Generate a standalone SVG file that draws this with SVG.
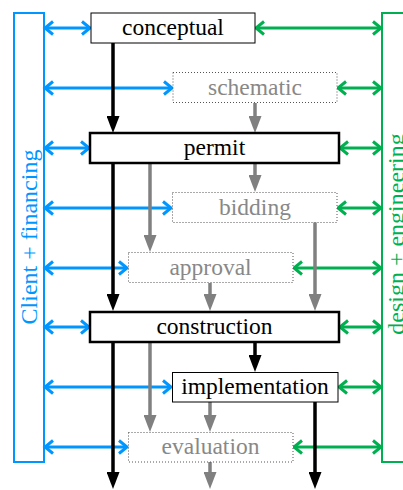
<svg xmlns="http://www.w3.org/2000/svg" width="403" height="490" viewBox="0 0 403 490">
<defs>
<style>
.t{font-size:23.5px;text-anchor:middle}
.main{fill:#000}
.opt{fill:#888}
.box{fill:#fff;stroke:#000;stroke-width:1}
.key{fill:#fff;stroke:#000;stroke-width:2.5}
.dot{fill:#fff;stroke:#555;stroke-width:1;stroke-dasharray:1 2}
.blue{stroke:#0096FF;stroke-width:3;fill:none;marker-start:url(#cb);marker-end:url(#cb)}
.green{stroke:#00B050;stroke-width:3;fill:none;marker-start:url(#cg);marker-end:url(#cg)}
.blk{stroke:#000;stroke-width:3.5;marker-end:url(#tb)}
.gry{stroke:#808080;stroke-width:3.5;marker-end:url(#tg)}
.side{font-size:24px;text-anchor:middle}
</style>
<marker id="cb" markerUnits="userSpaceOnUse" markerWidth="14" markerHeight="18" refX="9" refY="8" orient="auto-start-reverse" viewBox="0 0 14 18">
<path d="M1,1.5 L9,8 L1,14.5" fill="none" stroke="#0096FF" stroke-width="3"/>
</marker>
<marker id="cg" markerUnits="userSpaceOnUse" markerWidth="14" markerHeight="18" refX="9" refY="8" orient="auto-start-reverse" viewBox="0 0 14 18">
<path d="M1,1.5 L9,8 L1,14.5" fill="none" stroke="#00B050" stroke-width="3"/>
</marker>
<marker id="tb" markerUnits="userSpaceOnUse" markerWidth="17" markerHeight="13" refX="0" refY="6.5" orient="auto" viewBox="0 0 17 13">
<path d="M0,0 L17,6.5 L0,13 z" fill="#000"/>
</marker>
<marker id="tg" markerUnits="userSpaceOnUse" markerWidth="17" markerHeight="13" refX="0" refY="6.5" orient="auto" viewBox="0 0 17 13">
<path d="M0,0 L17,6.5 L0,13 z" fill="#808080"/>
</marker>
</defs>

<g id="client">
<rect x="14" y="13" width="30" height="449" fill="none" stroke="#0096FF" stroke-width="2"/>
<text class="side" style="font-family:'Liberation Serif',serif" transform="translate(37,237) rotate(-90)" fill="#0096FF">Client + financing</text>
</g>
<g id="design">
<rect x="382" y="13" width="40" height="449" fill="none" stroke="#00B050" stroke-width="2"/>
<text class="side" style="font-family:'Liberation Serif',serif" transform="translate(404,234) rotate(-90)" fill="#00B050">design + engineering</text>
</g>

<g id="connectors">
<g id="horizontal">
<line class="blue" x1="45" y1="28" x2="90" y2="28"/>
<line class="blue" x1="45" y1="88" x2="172" y2="88"/>
<line class="blue" x1="45" y1="148" x2="89" y2="148"/>
<line class="blue" x1="45" y1="208" x2="171" y2="208"/>
<line class="blue" x1="45" y1="268" x2="127" y2="268"/>
<line class="blue" x1="45" y1="327" x2="89" y2="327"/>
<line class="blue" x1="45" y1="387" x2="171" y2="387"/>
<line class="blue" x1="45" y1="447" x2="127" y2="447"/>
<line class="green" x1="256" y1="28" x2="381" y2="28"/>
<line class="green" x1="338" y1="88" x2="381" y2="88"/>
<line class="green" x1="340" y1="148" x2="381" y2="148"/>
<line class="green" x1="338" y1="208" x2="381" y2="208"/>
<line class="green" x1="294" y1="268" x2="381" y2="268"/>
<line class="green" x1="340" y1="327" x2="381" y2="327"/>
<line class="green" x1="339" y1="387" x2="381" y2="387"/>
<line class="green" x1="294" y1="447" x2="381" y2="447"/>
</g>
<g id="vertical">
<line class="blk" x1="113" y1="43" x2="113" y2="116"/>
<line class="blk" x1="113" y1="163" x2="113" y2="294"/>
<line class="blk" x1="113" y1="342" x2="113" y2="472"/>
<line class="blk" x1="255" y1="342" x2="255" y2="355"/>
<line class="blk" x1="315" y1="402" x2="315" y2="472"/>
<line class="gry" x1="255" y1="103" x2="255" y2="116"/>
<line class="gry" x1="255" y1="163" x2="255" y2="175"/>
<line class="gry" x1="150" y1="163" x2="150" y2="235"/>
<line class="gry" x1="315" y1="222" x2="315" y2="294"/>
<line class="gry" x1="210" y1="283" x2="210" y2="294"/>
<line class="gry" x1="150" y1="342" x2="150" y2="415"/>
<line class="gry" x1="210" y1="402" x2="210" y2="415"/>
<line class="gry" x1="210" y1="462" x2="210" y2="472"/>
</g>
</g>

<g id="conceptual">
<rect class="box" x="91" y="13" width="164" height="30"/>
<text class="t main" style="font-family:'Liberation Serif',serif" x="173" y="35">conceptual</text>
</g>
<g id="schematic">
<rect class="dot" x="173" y="72.5" width="164" height="30"/>
<text class="t opt" style="font-family:'Liberation Serif',serif" x="255" y="95">schematic</text>
</g>
<g id="permit">
<rect class="key" x="90" y="133" width="249" height="30"/>
<text class="t main" style="font-family:'Liberation Serif',serif" x="214.5" y="155">permit</text>
</g>
<g id="bidding">
<rect class="dot" x="172.5" y="192.5" width="164.5" height="30"/>
<text class="t opt" style="font-family:'Liberation Serif',serif" x="255" y="215">bidding</text>
</g>
<g id="approval">
<rect class="dot" x="128.5" y="252.5" width="164.5" height="30"/>
<text class="t opt" style="font-family:'Liberation Serif',serif" x="210.5" y="275">approval</text>
</g>
<g id="construction">
<rect class="key" x="90" y="312" width="249" height="30"/>
<text class="t main" style="font-family:'Liberation Serif',serif" x="214.5" y="334">construction</text>
</g>
<g id="implementation">
<rect class="box" x="172.5" y="372.5" width="165.5" height="29.5"/>
<text class="t main" style="font-family:'Liberation Serif',serif" x="255" y="394">implementation</text>
</g>
<g id="evaluation">
<rect class="dot" x="128.5" y="432.5" width="164.5" height="29.5"/>
<text class="t opt" style="font-family:'Liberation Serif',serif" x="210.5" y="454">evaluation</text>
</g>
</svg>
